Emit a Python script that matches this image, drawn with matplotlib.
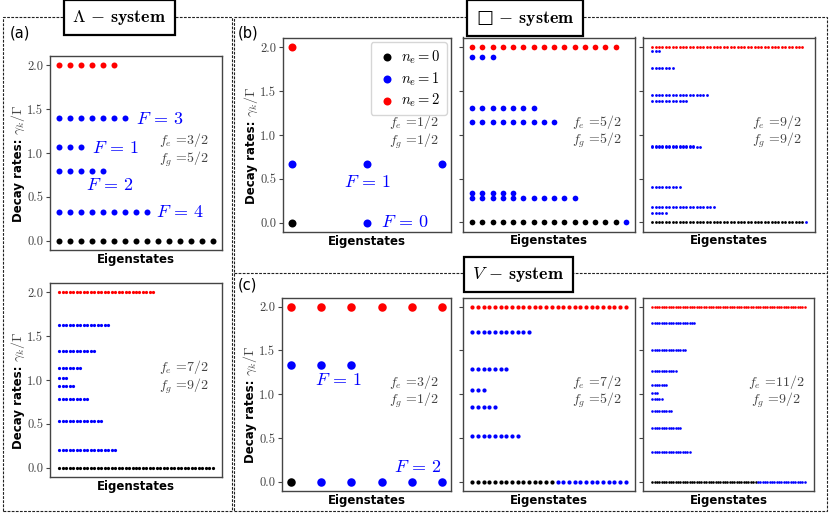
import numpy as np
import matplotlib.pyplot as plt
from matplotlib.patches import Rectangle

plt.rcParams['mathtext.fontset'] = 'cm'
plt.rcParams['axes.unicode_minus'] = False

W, H = 830, 514

# decay rates gamma_k/Gamma and how many eigenstates sit at each rate
red_rate = 2.0          # n_e = 2
black_rate = 0.0        # n_e = 0
yticks = [0.0, 0.5, 1.0, 1.5, 2.0]
ytick_labels = ['0.0', '0.5', '1.0', '1.5', '2.0']

# Lambda-system, fe=3/2, fg=5/2
a1_n_black, a1_n_red, a1_n_blue_zero = 15, 6, 0
a1_blue_rates = [1.4, 1.067, 0.8, 0.333]
a1_blue_counts = [7, 3, 5, 9]

# Lambda-system, fe=7/2, fg=9/2
a2_n_black, a2_n_red, a2_n_blue_zero = 45, 28, 0
a2_blue_rates = [1.622, 1.335, 1.134, 1.025, 0.934, 0.779, 0.537, 0.200]
a2_blue_counts = [15, 11, 7, 3, 5, 9, 13, 17]

# square-system, fe=1/2, fg=1/2
b1_n_black, b1_n_red, b1_n_blue_zero = 1, 1, 1
b1_blue_rates = [0.667]
b1_blue_counts = [3]

# square-system, fe=5/2, fg=5/2
b2_n_black, b2_n_red, b2_n_blue_zero = 15, 15, 1
b2_blue_rates = [1.883, 1.308, 1.142, 0.340, 0.284]
b2_blue_counts = [3, 7, 9, 5, 11]

# square-system, fe=9/2, fg=9/2
b3_n_black, b3_n_red, b3_n_blue_zero = 45, 45, 1
b3_blue_rates = [1.955, 1.754, 1.456, 1.388, 0.873, 0.862, 0.405, 0.181, 0.113]
b3_blue_counts = [3, 7, 17, 11, 13, 15, 9, 19, 5]

# V-system, fe=3/2, fg=1/2
c1_n_black, c1_n_red, c1_n_blue_zero = 1, 6, 5
c1_blue_rates = [1.333]
c1_blue_counts = [3]

# V-system, fe=7/2, fg=5/2
c2_n_black, c2_n_red, c2_n_blue_zero = 15, 28, 13
c2_blue_rates = [1.716, 1.288, 1.045, 0.856, 0.523]
c2_blue_counts = [11, 7, 3, 5, 9]

# V-system, fe=11/2, fg=9/2
c3_n_black, c3_n_red, c3_n_blue_zero = 45, 66, 21
c3_blue_rates = [1.818, 1.508, 1.269, 1.110, 1.019, 0.943, 0.814, 0.614, 0.345]
c3_blue_counts = [19, 15, 11, 7, 3, 5, 9, 13, 17]

fe_labels = ['3/2', '7/2', '1/2', '5/2', '9/2', '3/2', '7/2', '11/2']
fg_labels = ['5/2', '9/2', '1/2', '5/2', '9/2', '1/2', '5/2', '9/2']

GRAY = '#444444'


def rect(x0, y0, x1, y1):
    # pixel box -> figure fraction
    return [x0 / W, 1 - y1 / H, (x1 - x0) / W, (y1 - y0) / H]


def draw_panel(ax, n_black, n_red, n_blue_zero, blue_rates, blue_counts, d):
    s = (d * 0.72) ** 2
    xb = np.arange(n_black)
    hb = ax.scatter(xb, np.full(n_black, black_rate), s=s, color='black',
                    lw=0, label=r'$n_e=0$', zorder=3)
    xz = np.arange(n_black, n_black + n_blue_zero)
    ax.scatter(xz, np.full(n_blue_zero, black_rate), s=s, color='blue', lw=0, zorder=3)
    hbl = None
    for r, c in zip(blue_rates, blue_counts):
        hbl = ax.scatter(np.arange(c), np.full(c, r), s=s, color='blue', lw=0,
                         label=r'$n_e=1$', zorder=3)
    hr = ax.scatter(np.arange(n_red), np.full(n_red, red_rate), s=s, color='red',
                    lw=0, label=r'$n_e=2$', zorder=3)
    ax.set_ylim(-0.105, 2.105)
    ax.margins(x=0.06)
    ax.set_xticks([])
    ax.set_yticks(yticks)
    ax.set_yticklabels(ytick_labels, fontfamily='cmr10', fontsize=9, color=GRAY)
    ax.tick_params(axis='y', length=3, width=0.8, color=GRAY, pad=2)
    for sp in ax.spines.values():
        sp.set_color(GRAY)
        sp.set_linewidth(1.0)
    ax.set_xlabel('Eigenstates', fontweight='bold', fontsize=8.5, labelpad=2)
    return hb, hbl, hr


def add_ylabel(ax):
    ax.text(-0.165, 0.577, 'Decay rates:', transform=ax.transAxes, rotation=90,
            rotation_mode='anchor', ha='right', va='baseline', fontsize=8.5,
            fontweight='bold')
    ax.text(-0.165, 0.593, r'$\gamma_k/\Gamma$', transform=ax.transAxes, rotation=90,
            rotation_mode='anchor', ha='left', va='baseline', fontsize=10, color=GRAY)


def add_f(ax, fe, fg):
    ax.text(0.78, 0.565, r'$f_e$ =' + fe, transform=ax.transAxes, ha='center',
            va='center', fontfamily='cmr10', fontsize=10, color=GRAY)
    ax.text(0.78, 0.468, r'$f_g$ =' + fg, transform=ax.transAxes, ha='center',
            va='center', fontfamily='cmr10', fontsize=10, color=GRAY)


fig = plt.figure(figsize=(8.3, 5.14), dpi=100)

ax_a1 = fig.add_axes(rect(50, 56, 222, 250))
ax_a2 = fig.add_axes(rect(50, 283, 222, 477))
ax_b1 = fig.add_axes(rect(283, 38, 451, 232))
ax_b2 = fig.add_axes(rect(463, 37.5, 635, 231.7))
ax_b3 = fig.add_axes(rect(643, 37.5, 815, 231.7))
ax_c1 = fig.add_axes(rect(282, 297.5, 451, 491))
ax_c2 = fig.add_axes(rect(463, 297.5, 635, 491))
ax_c3 = fig.add_axes(rect(643, 297.5, 814, 491))

draw_panel(ax_a1, a1_n_black, a1_n_red, a1_n_blue_zero, a1_blue_rates, a1_blue_counts, 6.0)
draw_panel(ax_a2, a2_n_black, a2_n_red, a2_n_blue_zero, a2_blue_rates, a2_blue_counts, 3.2)
hb, hbl, hr = draw_panel(ax_b1, b1_n_black, b1_n_red, b1_n_blue_zero, b1_blue_rates,
                         b1_blue_counts, 8.0)
draw_panel(ax_b2, b2_n_black, b2_n_red, b2_n_blue_zero, b2_blue_rates, b2_blue_counts, 5.7)
draw_panel(ax_b3, b3_n_black, b3_n_red, b3_n_blue_zero, b3_blue_rates, b3_blue_counts, 2.8)
draw_panel(ax_c1, c1_n_black, c1_n_red, c1_n_blue_zero, c1_blue_rates, c1_blue_counts, 8.5)
draw_panel(ax_c2, c2_n_black, c2_n_red, c2_n_blue_zero, c2_blue_rates, c2_blue_counts, 4.2)
draw_panel(ax_c3, c3_n_black, c3_n_red, c3_n_blue_zero, c3_blue_rates, c3_blue_counts, 2.6)

axes_all = [ax_a1, ax_a2, ax_b1, ax_b2, ax_b3, ax_c1, ax_c2, ax_c3]
for ax, fe, fg in zip(axes_all, fe_labels, fg_labels):
    add_f(ax, fe, fg)
for ax in [ax_a1, ax_a2, ax_b1, ax_c1]:
    add_ylabel(ax)
for ax in [ax_b2, ax_b3, ax_c2, ax_c3]:
    ax.tick_params(labelleft=False)

ax_b1.legend(handles=[hb, hbl, hr], loc='upper right', fontsize=10.5,
             handletextpad=0.2, borderpad=0.4, labelspacing=0.3,
             borderaxespad=0.3, edgecolor='#cccccc', handlelength=1.5)

# F labels
fkw = dict(color='blue', fontsize=13, ha='center', va='center')
ax_a1.text(9.2, 1.39, r'$F\,=\,3$', **fkw)
ax_a1.text(5.1, 1.055, r'$F\,=\,1$', **fkw)
ax_a1.text(4.6, 0.634, r'$F\,=\,2$', **fkw)
ax_a1.text(11.0, 0.323, r'$F\,=\,4$', **fkw)
ax_b1.text(1.01, 0.466, r'$F\,=\,1$', **fkw)
ax_b1.text(1.51, 0.01, r'$F\,=\,0$', **fkw)
ax_c1.text(1.57, 1.163, r'$F\,=\,1$', **fkw)
ax_c1.text(4.2, 0.174, r'$F\,=\,2$', **fkw)

# dashed frames
dash = dict(fill=False, ls=(0, (2.5, 1.2)), lw=0.8, ec='#222222',
            transform=fig.transFigure)
fig.add_artist(Rectangle((3.3 / W, 1 - 510.7 / H), (232 - 3.3) / W, (510.7 - 17.3) / H, **dash))
fig.add_artist(Rectangle((233.5 / W, 1 - 510.7 / H), (827 - 233.5) / W, (510.7 - 16.5) / H, **dash))
fig.add_artist(plt.Line2D([233.5 / W, 827 / W], [1 - 272.7 / H, 1 - 272.7 / H],
                          ls=(0, (2.5, 1.2)), lw=0.8, color='#222222',
                          transform=fig.transFigure))

# system titles
tkw = dict(ha='center', va='center', fontsize=13, zorder=10,
           bbox=dict(boxstyle='square,pad=0.45', fc='white', ec='black', lw=1.6))
fig.text(119.5 / W, 1 - 17.7 / H, r'$\Lambda\,-\,\mathbf{system}$', **tkw)
fig.text(525 / W, 1 - 18 / H, '\u25a1' + r'$\,-\,\mathbf{system}$', fontsize=13,
         ha='center', va='center', zorder=10,
         bbox=dict(boxstyle='square,pad=0.45', fc='white', ec='black', lw=1.6))
fig.text(518.5 / W, 1 - 274.7 / H, r'$V\,-\,\mathbf{system}$', **tkw)

# panel letters
fig.text(10 / W, 1 - 33.5 / H, '(a)', fontsize=10.5, va='center')
fig.text(238 / W, 1 - 33.5 / H, '(b)', fontsize=10.5, va='center')
fig.text(238 / W, 1 - 285.5 / H, '(c)', fontsize=10.5, va='center')

fig.savefig('out.png', dpi=100)
